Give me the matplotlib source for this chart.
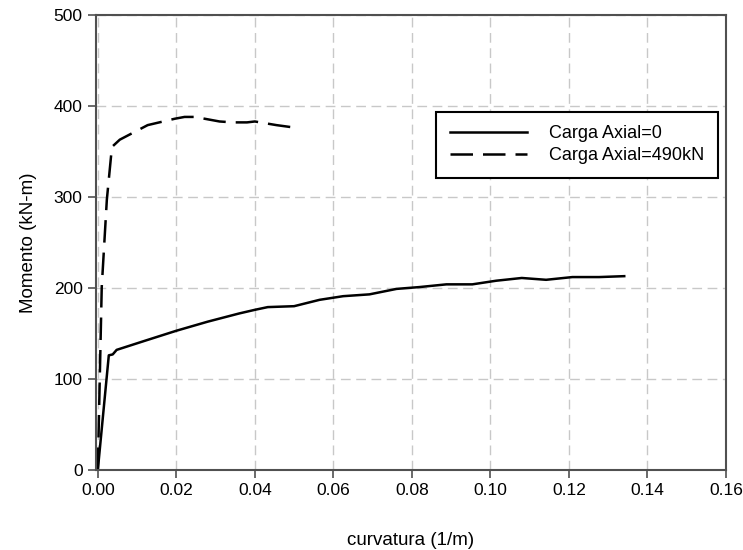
#!/usr/bin/env python3
import matplotlib
matplotlib.use("Agg")
import matplotlib.pyplot as plt

plt.rcParams['font.family'] = ['Liberation Sans', 'DejaVu Sans']

# Carga Axial = 0
curv_0 = [0.0, 0.0028, 0.0038, 0.0048, 0.012, 0.020, 0.028, 0.036, 0.040,
          0.0433, 0.050, 0.0565, 0.0625, 0.0692, 0.0761, 0.0819, 0.0888,
          0.0954, 0.1015, 0.108, 0.1142, 0.1209, 0.1277, 0.1341]
mom_0 = [0, 126, 127, 132, 142, 153, 163, 172, 176,
         179, 180, 187, 191, 193, 199, 201, 204,
         204, 208, 211, 209, 212, 212, 213]

# Carga Axial = 490kN
curv_490 = [0.0, 0.001, 0.0023, 0.0036, 0.0056, 0.0127, 0.0196, 0.0221,
            0.0247, 0.031, 0.0344, 0.038, 0.040, 0.0455, 0.0489, 0.0509]
mom_490 = [0, 201, 297, 355, 363, 379, 386, 388,
           388, 383, 382, 382, 383, 379, 377, 376]

xticks = [0.00, 0.02, 0.04, 0.06, 0.08, 0.10, 0.12, 0.14, 0.16]
yticks = [0, 100, 200, 300, 400, 500]

fig = plt.figure(figsize=(7.43, 5.5), dpi=100)
ax = fig.add_axes([0.129, 0.1455, 0.848, 0.8272])

ax.plot(curv_0, mom_0, color='black', linewidth=1.8, linestyle='-',
        label='Carga Axial=0')
ax.plot(curv_490, mom_490, color='black', linewidth=1.8,
        linestyle=(0, (9, 4)), label='Carga Axial=490kN')

ax.set_xlim(-0.0005, 0.16)
ax.set_ylim(0, 500)
ax.set_xticks(xticks)
ax.set_xticklabels(['%.2f' % t for t in xticks])
ax.set_yticks(yticks)
ax.grid(True, color='#c8c8c8', linestyle=(0, (7, 4)), linewidth=1.0)
ax.set_axisbelow(True)
ax.tick_params(direction='out', length=6, width=1.2, color='#505050',
               labelsize=12.5)
for s in ax.spines.values():
    s.set_color('#505050')
    s.set_linewidth(1.5)

ax.set_xlabel('curvatura (1/m)', fontsize=13.5, labelpad=24)
ax.set_ylabel('Momento (kN-m)', fontsize=13.5, labelpad=12)

leg = ax.legend(loc='upper right', bbox_to_anchor=(0.987, 0.787),
                fancybox=False, framealpha=1, edgecolor='black',
                fontsize=13, handlelength=4.3, borderpad=0.75,
                labelspacing=0.25, handletextpad=1.2, borderaxespad=0)
leg.get_frame().set_linewidth(1.5)

fig.savefig('out.png', dpi=100)
